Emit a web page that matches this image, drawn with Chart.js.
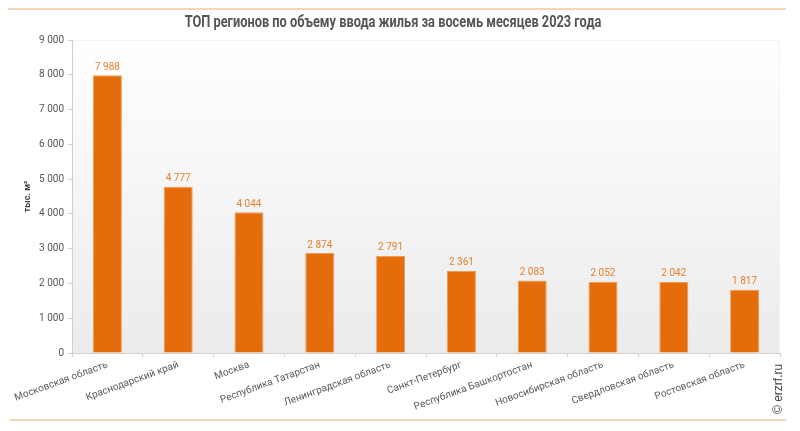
<!DOCTYPE html>
<html>
<head>
<meta charset="utf-8">
<script src="https://cdn.jsdelivr.net/npm/chart.js@4"></script>
<style>
  html, body { margin: 0; padding: 0; background: #fff; }
  #wrap { width: 800px; height: 431px; }
</style>
</head>
<body>
<div id="wrap"><canvas id="chart" width="800" height="431"></canvas></div>
<script>
// data
const regions = [
  'Московская область',
  'Краснодарский край',
  'Москва',
  'Республика Татарстан',
  'Ленинградская область',
  'Санкт-Петербург',
  'Республика Башкортостан',
  'Новосибирская область',
  'Свердловская область',
  'Ростовская область'
]
const housing = [7988, 4777, 4044, 2874, 2791, 2361, 2083, 2052, 2042, 1817]
const yMax = 9000
const yStep = 1000

const TITLE = 'ТОП регионов по объему ввода жилья за восемь месяцев 2023 года'
const ORANGE = '#E46C0A'

function fmt(v) {
  return String(v).replace(/\B(?=(\d{3})+(?!\d))/g, ' ')
}

// gradient plot area, orange rules, condensed title, value labels, watermark
const decor = {
  id: 'decor',
  beforeDraw(chart) {
    const { ctx, chartArea: a } = chart
    ctx.save()
    const g = ctx.createLinearGradient(0, a.top, 0, a.bottom)
    g.addColorStop(0, '#ffffff')
    g.addColorStop(1, '#ebebeb')
    ctx.fillStyle = g
    ctx.fillRect(a.left, a.top, a.right - a.left, a.bottom - a.top)
    ctx.strokeStyle = '#f2f2f2'
    ctx.lineWidth = 1
    ctx.strokeRect(a.left + 0.5, a.top + 0.5, a.right - a.left - 1, a.bottom - a.top)
    ctx.strokeStyle = '#f3c79c'
    ctx.lineWidth = 1.5
    ctx.beginPath()
    ctx.moveTo(8, 9); ctx.lineTo(786, 9)
    ctx.moveTo(10, 420); ctx.lineTo(786, 420)
    ctx.stroke()

    // title, squeezed to look like a condensed face
    ctx.translate(393, 23)
    ctx.scale(0.8, 1)
    ctx.font = 'bold 16px Roboto, Arial, sans-serif'
    ctx.fillStyle = '#555'
    ctx.textAlign = 'center'
    ctx.textBaseline = 'middle'
    ctx.fillText(TITLE, 0, 0)
    ctx.restore()
  },
  afterDatasetsDraw(chart) {
    const { ctx } = chart
    const meta = chart.getDatasetMeta(0)
    ctx.save()
    ctx.font = '10px Roboto, Arial, sans-serif'
    ctx.fillStyle = '#e8802e'
    ctx.textAlign = 'center'
    ctx.textBaseline = 'bottom'
    meta.data.forEach((bar, i) => {
      ctx.fillText(fmt(housing[i]), bar.x, bar.y - 3)
    })
    ctx.translate(779, 414)
    ctx.rotate(-Math.PI / 2)
    ctx.font = '12px Arial, "Liberation Sans", sans-serif'
    ctx.fillStyle = '#444'
    ctx.textAlign = 'left'
    ctx.textBaseline = 'middle'
    ctx.fillText('© erzrf.ru', 0, 0)
    ctx.restore()
  }
}

const ctx = document.getElementById('chart').getContext('2d')
const chartBar = new Chart(ctx, {
  type: 'bar',
  data: {
    labels: regions,
    datasets: [
      {
        data: housing,
        backgroundColor: ORANGE,
        borderColor: '#f09a55',
        borderWidth: 1,
        barPercentage: 0.41,
        categoryPercentage: 1
      }
    ]
  },
  options: {
    responsive: false,
    animation: false,
    layout: { padding: { left: 22, right: 20, top: 40, bottom: 14 } },
    plugins: {
      legend: { display: false },
      tooltip: { enabled: false },
      title: { display: false }
    },
    scales: {
      x: {
        grid: { drawOnChartArea: false, tickLength: 4, color: '#d0d0d0' },
        border: { color: '#d0d0d0' },
        ticks: {
          minRotation: 20,
          maxRotation: 20,
          autoSkip: false,
          color: '#5a5a5a',
          font: { family: 'Roboto, Arial, sans-serif', size: 10 },
          padding: 2
        },
        afterFit(scale) { scale.height = 64 }
      },
      y: {
        min: 0,
        max: yMax,
        grid: { drawOnChartArea: false, tickLength: 4, color: '#d0d0d0' },
        border: { color: '#d0d0d0' },
        ticks: {
          stepSize: yStep,
          color: '#555',
          font: { family: 'Roboto, Arial, sans-serif', size: 10 },
          padding: 4,
          callback: v => fmt(v)
        },
        title: {
          display: true,
          text: 'тыс. м²',
          color: '#444',
          font: { family: 'Roboto, Arial, sans-serif', size: 9, weight: 'bold' },
          padding: 0
        },
        afterFit(scale) { scale.width = 50 }
      }
    }
  },
  plugins: [decor]
})
</script>
</body>
</html>
